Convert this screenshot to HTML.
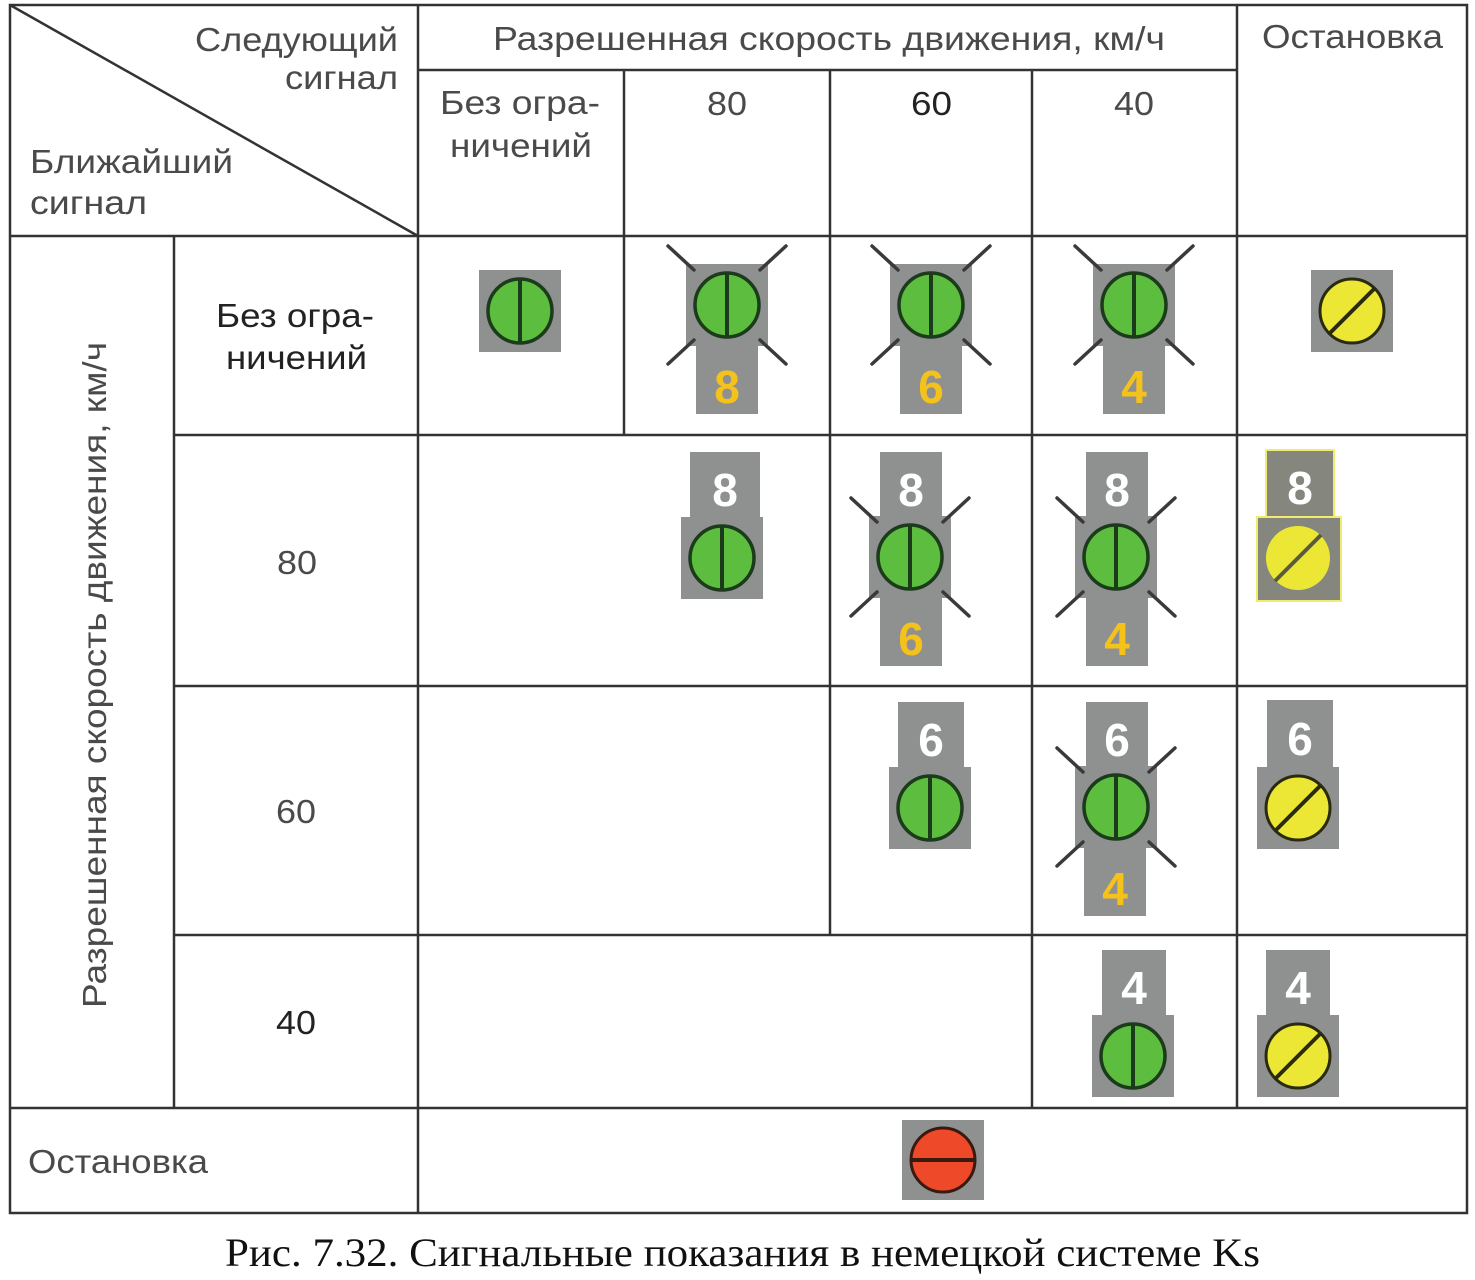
<!DOCTYPE html>
<html><head><meta charset="utf-8"><style>
html,body{margin:0;padding:0;background:#fff;}
svg{display:block;}
text{font-family:"Liberation Sans",sans-serif;fill:#4a4a4a;}
</style></head><body>
<svg width="1475" height="1280" viewBox="0 0 1475 1280" xmlns="http://www.w3.org/2000/svg">
<defs>
  <g id="g">
    <rect x="-41" y="-41" width="82" height="82" fill="#8f9191"/>
    <circle r="32" fill="#5dbd3e" stroke="#1b3b1b" stroke-width="3.5"/>
    <line x1="0" y1="-32" x2="0" y2="32" stroke="#1b3b1b" stroke-width="4"/>
  </g>
  <g id="y">
    <rect x="-41" y="-41" width="82" height="82" fill="#8f9191"/>
    <circle r="32" fill="#ece734" stroke="#2a2a10" stroke-width="3"/>
    <line x1="-23" y1="23" x2="23" y2="-23" stroke="#2a2a10" stroke-width="4"/>
  </g>
  <g id="rays" stroke="#3a3a3a" stroke-width="3.5" stroke-linecap="round">
    <line x1="-59" y1="-59" x2="-33" y2="-35"/>
    <line x1="59" y1="-59" x2="33" y2="-35"/>
    <line x1="-59" y1="59" x2="-33" y2="35"/>
    <line x1="59" y1="59" x2="33" y2="35"/>
  </g>
</defs>

<g stroke="#333" stroke-width="2.5" fill="none">
  <rect x="10" y="5" width="1457" height="1208"/>
  <line x1="10" y1="5" x2="418" y2="236"/>
  <line x1="418" y1="5" x2="418" y2="1213"/>
  <line x1="1237" y1="5" x2="1237" y2="1108"/>
  <line x1="418" y1="70" x2="1237" y2="70"/>
  <line x1="624" y1="70" x2="624" y2="435"/>
  <line x1="830" y1="70" x2="830" y2="935"/>
  <line x1="1032" y1="70" x2="1032" y2="1108"/>
  <line x1="10" y1="236" x2="1467" y2="236"/>
  <line x1="174" y1="236" x2="174" y2="1108"/>
  <line x1="174" y1="435" x2="1467" y2="435"/>
  <line x1="174" y1="686" x2="1467" y2="686"/>
  <line x1="174" y1="935" x2="1467" y2="935"/>
  <line x1="10" y1="1108" x2="1467" y2="1108"/>
</g>

<g font-size="33" lengthAdjust="spacingAndGlyphs">
  <text x="195" y="51" textLength="203" lengthAdjust="spacingAndGlyphs">Следующий</text>
  <text x="285" y="89" textLength="113" lengthAdjust="spacingAndGlyphs">сигнал</text>
  <text x="30" y="173" textLength="203" lengthAdjust="spacingAndGlyphs">Ближайший</text>
  <text x="30" y="214" textLength="117" lengthAdjust="spacingAndGlyphs">сигнал</text>
  <text x="493" y="50" textLength="672" lengthAdjust="spacingAndGlyphs">Разрешенная скорость движения, км/ч</text>
  <text x="1262" y="48" textLength="181" lengthAdjust="spacingAndGlyphs">Остановка</text>
  <text x="440" y="114" textLength="160" lengthAdjust="spacingAndGlyphs">Без огра-</text>
  <text x="450" y="157" textLength="142" lengthAdjust="spacingAndGlyphs">ничений</text>
  <text x="707" y="115" textLength="40" lengthAdjust="spacingAndGlyphs">80</text>
  <text x="911" y="115" textLength="41" lengthAdjust="spacingAndGlyphs" style="fill:#222">60</text>
  <text x="1114" y="115" textLength="40" lengthAdjust="spacingAndGlyphs">40</text>
  <text x="216" y="327" textLength="158" lengthAdjust="spacingAndGlyphs" style="fill:#222">Без огра-</text>
  <text x="226" y="369" textLength="141" lengthAdjust="spacingAndGlyphs" style="fill:#222">ничений</text>
  <text x="277" y="574" textLength="40" lengthAdjust="spacingAndGlyphs">80</text>
  <text x="276" y="823" textLength="40" lengthAdjust="spacingAndGlyphs">60</text>
  <text x="276" y="1034" textLength="40" lengthAdjust="spacingAndGlyphs" style="fill:#222">40</text>
  <text x="28" y="1173" textLength="180" lengthAdjust="spacingAndGlyphs">Остановка</text>
  <text transform="translate(106,1008) rotate(-90)" textLength="666" lengthAdjust="spacingAndGlyphs">Разрешенная скорость движения, км/ч</text>
</g>

<g font-size="46" font-weight="bold" text-anchor="middle">
<use href="#g" x="520" y="311"/>

<rect x="696" y="340" width="62" height="74" fill="#8f9191"/>
<text x="727" y="403" style="fill:#f5c21b">8</text>
<use href="#g" x="727" y="305"/><use href="#rays" x="727" y="305"/>

<rect x="900" y="340" width="62" height="74" fill="#8f9191"/>
<text x="931" y="403" style="fill:#f5c21b">6</text>
<use href="#g" x="931" y="305"/><use href="#rays" x="931" y="305"/>

<rect x="1103" y="340" width="62" height="74" fill="#8f9191"/>
<text x="1134" y="403" style="fill:#f5c21b">4</text>
<use href="#g" x="1134" y="305"/><use href="#rays" x="1134" y="305"/>

<use href="#y" x="1352" y="311"/>

<rect x="690" y="452" width="70" height="70" fill="#8f9191"/>
<text x="725" y="506" style="fill:#fff">8</text>
<use href="#g" x="722" y="558"/>

<rect x="880" y="452" width="62" height="70" fill="#8f9191"/>
<text x="911" y="506" style="fill:#fff">8</text>
<rect x="880" y="592" width="62" height="74" fill="#8f9191"/>
<text x="911" y="655" style="fill:#f5c21b">6</text>
<use href="#g" x="910" y="557"/><use href="#rays" x="910" y="557"/>

<rect x="1086" y="452" width="62" height="70" fill="#8f9191"/>
<text x="1117" y="506" style="fill:#fff">8</text>
<rect x="1086" y="592" width="62" height="74" fill="#8f9191"/>
<text x="1117" y="655" style="fill:#f5c21b">4</text>
<use href="#g" x="1116" y="557"/><use href="#rays" x="1116" y="557"/>

<rect x="1266" y="450" width="68" height="72" fill="#85877f" stroke="#f0ec70" stroke-width="2"/>
<rect x="1257" y="517" width="84" height="84" fill="#85877f" stroke="#f0ec70" stroke-width="2"/>
<text x="1300" y="504" style="fill:#fff">8</text>
<circle cx="1298" cy="558" r="32" fill="#ece734"/>
<line x1="1275" y1="581" x2="1321" y2="535" stroke="#5a5a40" stroke-width="4"/>

<rect x="898" y="702" width="66" height="70" fill="#8f9191"/>
<text x="931" y="756" style="fill:#fff">6</text>
<use href="#g" x="930" y="808"/>

<rect x="1086" y="702" width="62" height="70" fill="#8f9191"/>
<text x="1117" y="756" style="fill:#fff">6</text>
<rect x="1084" y="842" width="62" height="74" fill="#8f9191"/>
<text x="1115" y="905" style="fill:#f5c21b">4</text>
<use href="#g" x="1116" y="807"/><use href="#rays" x="1116" y="807"/>

<rect x="1267" y="700" width="66" height="70" fill="#8f9191"/>
<text x="1300" y="755" style="fill:#fff">6</text>
<use href="#y" x="1298" y="808"/>

<rect x="1102" y="950" width="64" height="68" fill="#8f9191"/>
<text x="1134" y="1004" style="fill:#fff">4</text>
<use href="#g" x="1133" y="1056"/>

<rect x="1266" y="950" width="64" height="68" fill="#8f9191"/>
<text x="1298" y="1004" style="fill:#fff">4</text>
<use href="#y" x="1298" y="1056"/>
</g>

<rect x="902" y="1120" width="82" height="80" fill="#8f9191"/>
<circle cx="943" cy="1160" r="32" fill="#ee4a2a" stroke="#3a1a10" stroke-width="3"/>
<line x1="911" y1="1160" x2="975" y2="1160" stroke="#3a1a10" stroke-width="4"/>

<text x="225" y="1266" textLength="1035" lengthAdjust="spacingAndGlyphs" font-size="40" style="font-family:'Liberation Serif',serif;fill:#111">Рис. 7.32. Сигнальные показания в немецкой системе Ks</text>
</svg>
</body></html>
